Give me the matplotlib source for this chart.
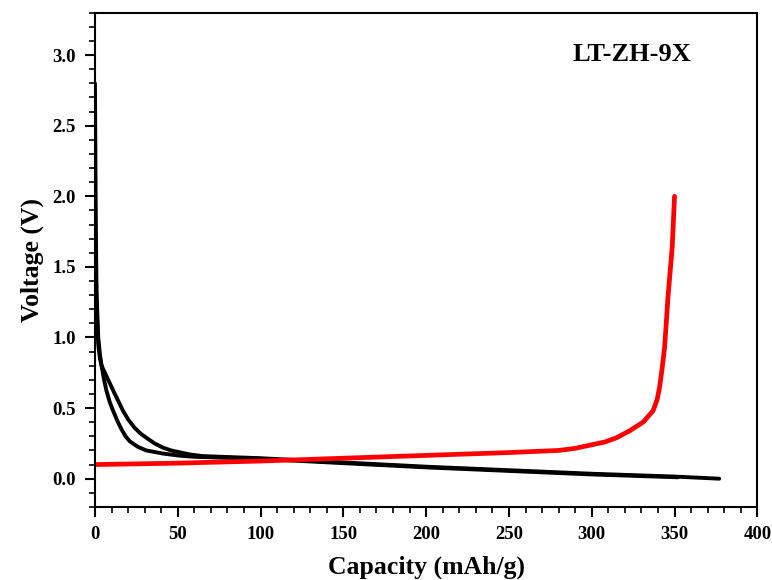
import numpy as np
import matplotlib
matplotlib.use('Agg')
import matplotlib.pyplot as plt
from matplotlib.ticker import MultipleLocator, FormatStrFormatter

plt.rcParams['font.family'] = ['Liberation Serif', 'DejaVu Serif']
plt.rcParams['font.weight'] = 'bold'

#%% data

# discharge, first curve (starts near 2.8 V)
cap_d1 = [0, 0.5, 1, 2, 3, 4, 5.5, 7, 9, 11, 13.5, 16, 18.5, 21, 26, 31, 41, 51, 60,
          100, 150, 200, 250, 300, 352]
volt_d1 = [2.8, 1.8, 1.3, 1.0, 0.88, 0.80, 0.70, 0.62, 0.54, 0.48, 0.41, 0.35, 0.30, 0.265,
           0.225, 0.20, 0.178, 0.163, 0.155, 0.14, 0.11, 0.08, 0.055, 0.03, 0.01]

# discharge, second curve (starts near 2.1 V)
cap_d2 = [0, 0.5, 1, 2, 3, 4, 6, 8, 10, 12, 14.5, 17, 20, 24, 27.5, 31, 36, 41, 46, 50, 57, 65,
          100, 150, 200, 250, 300, 350, 377]
volt_d2 = [2.1, 1.5, 1.2, 0.95, 0.85, 0.80, 0.75, 0.70, 0.65, 0.60, 0.54, 0.48, 0.42, 0.36,
           0.32, 0.29, 0.25, 0.22, 0.20, 0.19, 0.172, 0.16,
           0.145, 0.115, 0.085, 0.06, 0.035, 0.015, 0.0]

# charge curve
cap_c = [0, 50, 100, 150, 200, 250, 270, 280, 290, 300, 308, 315, 323, 331, 337, 339.5, 341,
         342.5, 344, 345, 346, 347.3, 348.6, 350]
volt_c = [0.10, 0.11, 0.125, 0.145, 0.165, 0.185, 0.195, 0.20, 0.215, 0.24, 0.26, 0.29, 0.34,
          0.40, 0.48, 0.56, 0.65, 0.78, 0.93, 1.10, 1.28, 1.46, 1.64, 2.0]

#%% plot

fig = plt.figure(figsize=(7.72, 5.8), dpi=100)
ax = fig.add_axes([0.123, 0.126, 0.858, 0.852])

ax.plot(cap_d1, volt_d1, color='black', lw=2.8, solid_capstyle='round')
ax.plot(cap_d2, volt_d2, color='black', lw=2.8, solid_capstyle='round')
ax.plot(cap_c, volt_c, color='red', lw=3.4, solid_capstyle='round')

ax.set_xlim(0, 400)
ax.set_ylim(-0.2, 3.3)
ax.xaxis.set_major_locator(MultipleLocator(50))
ax.xaxis.set_minor_locator(MultipleLocator(10))
ax.yaxis.set_major_locator(MultipleLocator(0.5))
ax.yaxis.set_minor_locator(MultipleLocator(0.1))
ax.yaxis.set_major_formatter(FormatStrFormatter('%.1f'))

ax.tick_params(which='major', direction='out', length=7, width=1.5, labelsize=13.5, pad=7)
ax.tick_params(which='minor', direction='out', length=4, width=1.2)
for lab in ax.get_xticklabels() + ax.get_yticklabels():
    lab.set_fontweight('bold')
for s in ax.spines.values():
    s.set_linewidth(1.5)

ax.set_xlabel('Capacity (mAh/g)', fontsize=18.5, fontweight='bold', labelpad=9)
ax.set_ylabel('Voltage (V)', fontsize=18.5, fontweight='bold', labelpad=6)
ax.text(0.811, 0.915, 'LT-ZH-9X', transform=ax.transAxes, ha='center', va='center',
        fontsize=19, fontweight='bold')

plt.savefig('out.png', dpi=100)
plt.close()
